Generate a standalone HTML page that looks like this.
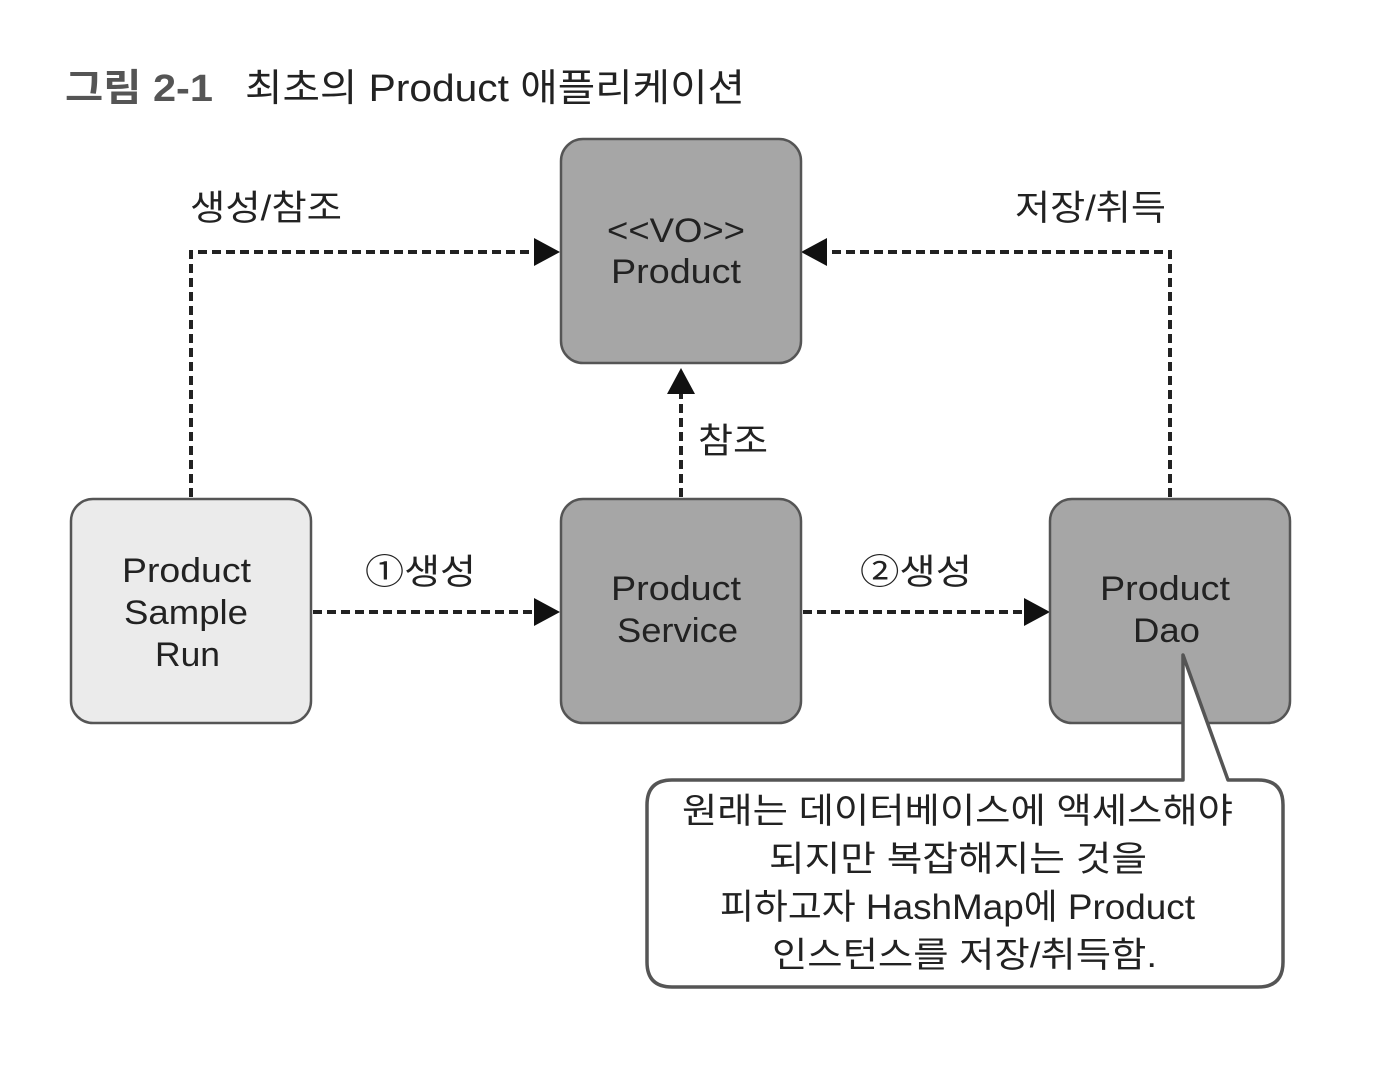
<!DOCTYPE html>
<html><head><meta charset="utf-8"><style>
html,body{margin:0;padding:0;background:#fff;}
svg{display:block;}
text{font-family:"Liberation Sans","Noto Sans CJK KR",sans-serif;fill:#222;}
</style></head><body>
<svg width="1378" height="1090" viewBox="0 0 1378 1090" xmlns="http://www.w3.org/2000/svg">
<text x="65" y="101" font-size="38" font-weight="bold" style="fill:#555" textLength="148" lengthAdjust="spacingAndGlyphs">그림 2-1</text>
<text x="245" y="101" font-size="38" textLength="500" lengthAdjust="spacingAndGlyphs">최초의 Product 애플리케이션</text>

<g stroke="#222" stroke-width="4" stroke-dasharray="9,5" fill="none">
<polyline points="191,497 191,252 536,252"/>
<polyline points="1170,497 1170,252 826,252"/>
<line x1="681" y1="497" x2="681" y2="392"/>
<line x1="313" y1="612" x2="536" y2="612"/>
<line x1="803" y1="612" x2="1026" y2="612"/>
</g>
<g fill="#111">
<polygon points="560,252 534,238 534,266"/>
<polygon points="801,252 827,238 827,266"/>
<polygon points="681,368 667,394 695,394"/>
<polygon points="560,612 534,598 534,626"/>
<polygon points="1050,612 1024,598 1024,626"/>
</g>

<g stroke="#555" stroke-width="2.5">
<rect x="561" y="139" width="240" height="224" rx="22" fill="#a6a6a6"/>
<rect x="71" y="499" width="240" height="224" rx="22" fill="#ebebeb"/>
<rect x="561" y="499" width="240" height="224" rx="22" fill="#a6a6a6"/>
<rect x="1050" y="499" width="240" height="224" rx="22" fill="#a6a6a6"/>
</g>
<g font-size="34" lengthAdjust="spacingAndGlyphs">
<text x="607" y="242" textLength="138" lengthAdjust="spacingAndGlyphs">&lt;&lt;VO&gt;&gt;</text>
<text x="611" y="283" textLength="130" lengthAdjust="spacingAndGlyphs">Product</text>
<text x="122" y="582" textLength="129" lengthAdjust="spacingAndGlyphs">Product</text>
<text x="124" y="624" textLength="124" lengthAdjust="spacingAndGlyphs">Sample</text>
<text x="155" y="666" textLength="65" lengthAdjust="spacingAndGlyphs">Run</text>
<text x="611" y="600" textLength="130" lengthAdjust="spacingAndGlyphs">Product</text>
<text x="617" y="642" textLength="121" lengthAdjust="spacingAndGlyphs">Service</text>
<text x="1100" y="600" textLength="130" lengthAdjust="spacingAndGlyphs">Product</text>
<text x="1133" y="642" textLength="67" lengthAdjust="spacingAndGlyphs">Dao</text>
</g>
<g font-size="35">
<text x="190" y="220" textLength="152" lengthAdjust="spacingAndGlyphs">생성/참조</text>
<text x="1015" y="220" textLength="151" lengthAdjust="spacingAndGlyphs">저장/취득</text>
<text x="698" y="453" textLength="70" lengthAdjust="spacingAndGlyphs">참조</text>
<text x="365" y="584" textLength="111" lengthAdjust="spacingAndGlyphs">①생성</text>
<text x="860" y="584" textLength="112" lengthAdjust="spacingAndGlyphs">②생성</text>
</g>

<path d="M672,780 L1183,780 L1183,655 L1228,780 L1258,780 Q1283,780 1283,805 L1283,962 Q1283,987 1258,987 L672,987 Q647,987 647,962 L647,805 Q647,780 672,780 Z" fill="#fff" stroke="#555" stroke-width="3.5" stroke-linejoin="round"/>
<g font-size="35">
<text x="682" y="823" textLength="551" lengthAdjust="spacingAndGlyphs">원래는 데이터베이스에 액세스해야</text>
<text x="769" y="871" textLength="378" lengthAdjust="spacingAndGlyphs">되지만 복잡해지는 것을</text>
<text x="720" y="919" textLength="475" lengthAdjust="spacingAndGlyphs">피하고자 HashMap에 Product</text>
<text x="772" y="967" textLength="385" lengthAdjust="spacingAndGlyphs">인스턴스를 저장/취득함.</text>
</g>
</svg>
</body></html>
